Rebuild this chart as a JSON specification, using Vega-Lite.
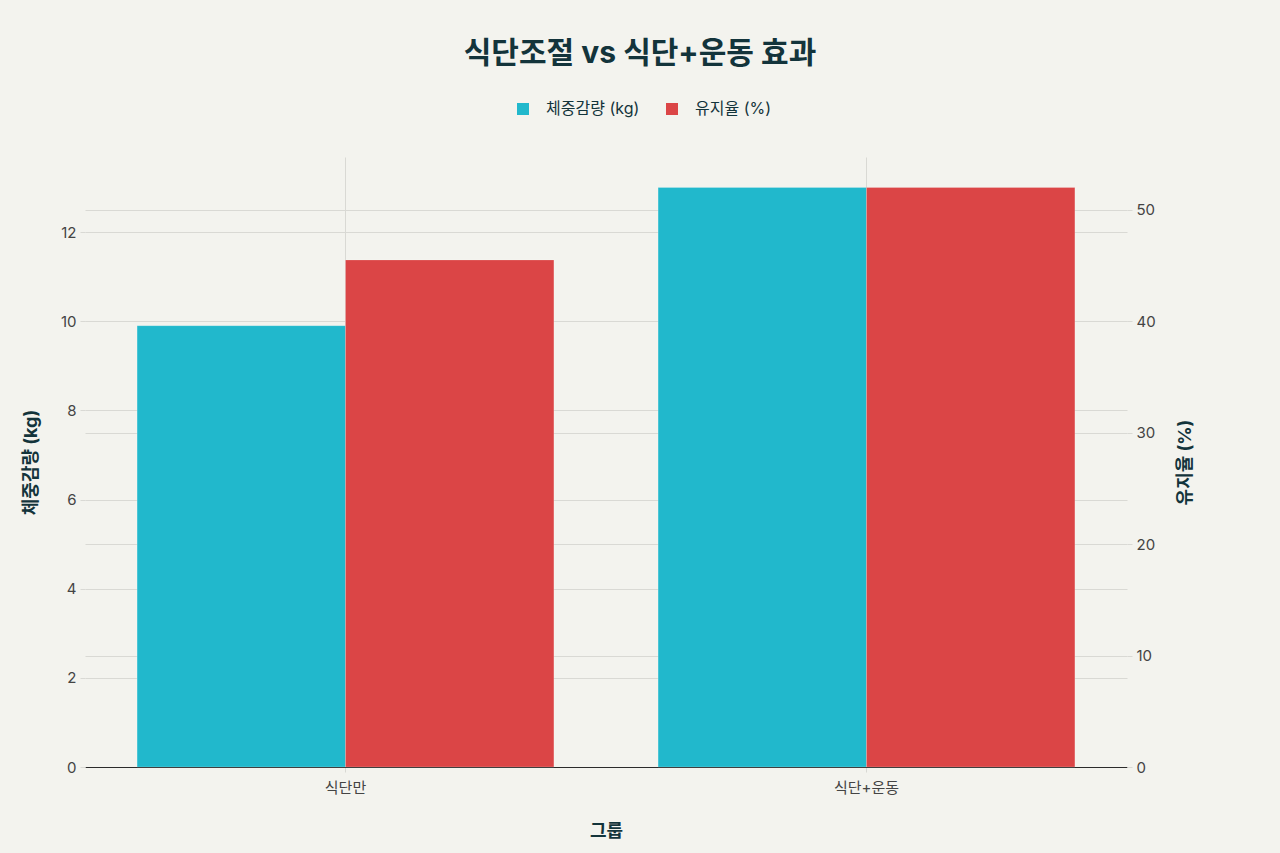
{
  "$schema": "https://vega.github.io/schema/vega-lite/v6.json",
  "width": 1042,
  "height": 610,
  "autosize": {"type": "none"},
  "padding": {"left": 85, "top": 157, "right": 153, "bottom": 86},
  "background": "#F3F3EE",
  "config": {
    "font": "Inter, Noto Sans CJK KR",
    "view": {"stroke": null}
  },
  "title": {
    "text": "식단조절 vs 식단+운동 효과",
    "fontSize": 30,
    "fontWeight": "bold",
    "color": "#13343B",
    "anchor": "middle",
    "frame": "group",
    "dx": 34,
    "offset": 32
  },
  "data": {
    "values": [
      {"group": "식단만", "metric": "체중감량 (kg)", "value": 9.9},
      {"group": "식단만", "metric": "유지율 (%)", "value": 45.5},
      {"group": "식단+운동", "metric": "체중감량 (kg)", "value": 13.0},
      {"group": "식단+운동", "metric": "유지율 (%)", "value": 52.0}
    ]
  },
  "encoding": {
    "x": {
      "field": "group",
      "type": "nominal",
      "sort": ["식단만", "식단+운동"],
      "scale": {"paddingInner": 0.2, "paddingOuter": 0.1},
      "axis": {
        "title": "그룹",
        "titleFontSize": 18,
        "titleFontWeight": "bold",
        "titleColor": "#13343B",
        "titlePadding": 27,
        "labelAngle": 0,
        "labelFontSize": 15,
        "labelColor": "#444444",
        "labelPadding": 8,
        "grid": true,
        "gridColor": "#D9D9D4",
        "domainColor": "#2B2B2B",
        "domainWidth": 1,
        "tickColor": "#D9D9D4",
        "tickSize": 5
      }
    },
    "xOffset": {
      "field": "metric",
      "type": "nominal",
      "sort": ["체중감량 (kg)", "유지율 (%)"],
      "scale": {"paddingInner": 0, "paddingOuter": 0}
    },
    "color": {
      "field": "metric",
      "type": "nominal",
      "scale": {"domain": ["체중감량 (kg)", "유지율 (%)"], "range": ["#21B8CC", "#DB4546"]},
      "legend": {
        "title": null,
        "orient": "none",
        "direction": "horizontal",
        "legendX": 430,
        "legendY": -56,
        "symbolType": "square",
        "symbolSize": 144,
        "symbolStrokeWidth": 0,
        "labelFontSize": 16,
        "labelColor": "#13343B",
        "labelOffset": 15,
        "columnPadding": 24
      }
    }
  },
  "layer": [
    {
      "transform": [{"filter": "datum.metric == '체중감량 (kg)'"}],
      "mark": {"type": "bar", "stroke": "#ffffff", "strokeOpacity": 0.4, "strokeWidth": 0.5},
      "encoding": {
        "y": {
          "field": "value",
          "type": "quantitative",
          "scale": {"domain": [0, 13.684], "nice": false, "zero": true},
          "axis": {
            "orient": "left",
            "title": "체중감량 (kg)",
            "values": [0, 2, 4, 6, 8, 10, 12],
            "titleFontSize": 18,
            "titleFontWeight": "bold",
            "titleColor": "#13343B",
            "titlePadding": 20,
            "labelFontSize": 15,
            "labelColor": "#444444",
            "labelPadding": 4,
            "grid": true,
            "gridColor": "#D9D9D4",
            "domain": false,
            "tickColor": "#D9D9D4",
            "tickSize": 5
          }
        }
      }
    },
    {
      "transform": [{"filter": "datum.metric == '유지율 (%)'"}],
      "mark": {"type": "bar", "stroke": "#ffffff", "strokeOpacity": 0.4, "strokeWidth": 0.5},
      "encoding": {
        "y": {
          "field": "value",
          "type": "quantitative",
          "scale": {"domain": [0, 54.737], "nice": false, "zero": true},
          "axis": {
            "orient": "right",
            "title": "유지율 (%)",
            "values": [0, 10, 20, 30, 40, 50],
            "titleFontSize": 18,
            "titleFontWeight": "bold",
            "titleColor": "#13343B",
            "titleAngle": -90,
            "titlePadding": 39,
            "labelFontSize": 15,
            "labelColor": "#444444",
            "labelPadding": 4,
            "grid": true,
            "gridColor": "#D9D9D4",
            "domain": false,
            "tickColor": "#D9D9D4",
            "tickSize": 5
          }
        }
      }
    }
  ],
  "resolve": {"scale": {"y": "independent"}, "axis": {"y": "independent"}}
}
